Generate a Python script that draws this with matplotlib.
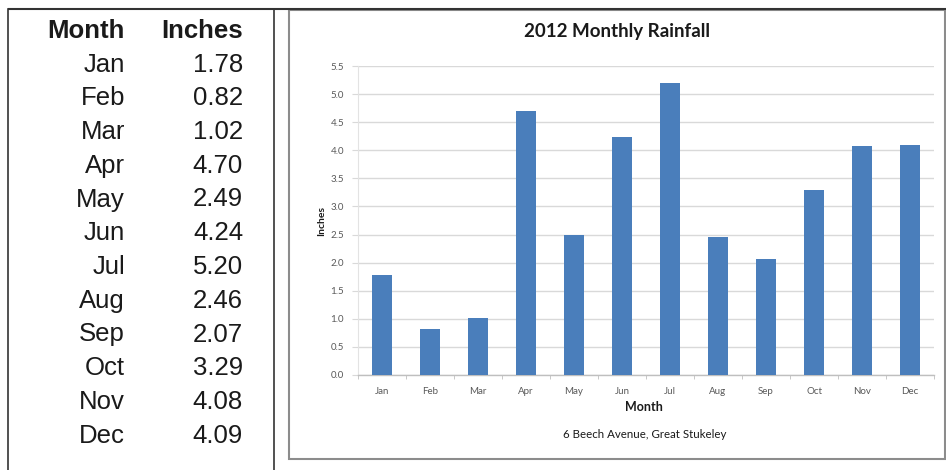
import matplotlib.pyplot as plt
from matplotlib.patches import Rectangle

months = ["Jan", "Feb", "Mar", "Apr", "May", "Jun",
          "Jul", "Aug", "Sep", "Oct", "Nov", "Dec"]
inches = [1.78, 0.82, 1.02, 4.70, 2.49, 4.24,
          5.20, 2.46, 2.07, 3.29, 4.08, 4.09]
yticks = [0.0, 0.5, 1.0, 1.5, 2.0, 2.5, 3.0, 3.5, 4.0, 4.5, 5.0, 5.5]

W, H = 946, 470
fig = plt.figure(figsize=(W / 100, H / 100), dpi=100)

# overlay in pixel units for the table and the frames
bg = fig.add_axes([0, 0, 1, 1])
bg.set_xlim(0, W)
bg.set_ylim(H, 0)
bg.axis("off")

bg.plot([7.5, W], [8.5, 8.5], color="#333333", lw=1.5, solid_capstyle="butt")
bg.plot([7.5, 7.5], [8.5, H], color="#333333", lw=1.2)
bg.plot([274, 274], [8.5, H], color="#333333", lw=1.2)

bg.add_patch(Rectangle((289, 10), 656, 449, facecolor="white",
                       edgecolor="#8c8c8c", lw=1.5))

tfont = "Liberation Sans"
tsize = 18.5
bg.text(125, 37.5, "Month", ha="right", va="baseline", fontsize=tsize,
        fontweight="bold", family=tfont, color="#1a1a1a")
bg.text(243, 37.5, "Inches", ha="right", va="baseline", fontsize=tsize,
        fontweight="bold", family=tfont, color="#1a1a1a")
for i, (m, v) in enumerate(zip(months, inches)):
    y = 71.5 + i * 33.75
    bg.text(125, y, m, ha="right", va="baseline", fontsize=tsize,
            family=tfont, color="#1a1a1a")
    bg.text(243, y, f"{v:.2f}", ha="right", va="baseline", fontsize=tsize,
            family=tfont, color="#1a1a1a")

# chart
cfont = "Lato"
ax = fig.add_axes([358 / W, 1 - 375 / H, 576 / W, 309 / H])
x = list(range(len(months)))
ax.bar(x, inches, width=0.4, color="#4a7ebb", zorder=3)
ax.set_xlim(-0.5, len(months) - 0.5)
ax.set_ylim(0, 5.5)
ax.set_yticks(yticks)
ax.set_yticklabels([f"{t:.1f}" for t in yticks], fontsize=7, family=cfont,
                   color="#595959")
ax.set_xticks(x)
ax.set_xticklabels(months, fontsize=7, family=cfont, color="#595959")
ax.set_xticks([i + 0.5 for i in range(-1, len(months))], minor=True)
ax.tick_params(axis="x", which="major", length=0, pad=9)
ax.tick_params(axis="x", which="minor", length=3, color="#bfbfbf", direction="out")
ax.tick_params(axis="y", length=4, color="#d9d9d9", pad=6)
ax.yaxis.grid(True, color="#d9d9d9", lw=1.0, zorder=0)
for s in ["top", "right"]:
    ax.spines[s].set_visible(False)
ax.spines["left"].set_color("#e3e3e3")
ax.spines["bottom"].set_color("#bfbfbf")
ax.spines["bottom"].set_linewidth(1.0)

bg.text(617, 31, "2012 Monthly Rainfall", ha="center", va="center",
        fontsize=13.5, fontweight="bold", family=cfont, color="#1a1a1a")
bg.text(644, 407, "Month", ha="center", va="center", fontsize=9,
        fontweight="bold", family=cfont, color="#1a1a1a")
bg.text(322, 221, "Inches", ha="center", va="center", fontsize=7.5,
        fontweight="bold", family=cfont, color="#1a1a1a", rotation=90)
bg.text(645, 435, "6 Beech Avenue, Great Stukeley", ha="center", va="center",
        fontsize=8.3, family=cfont, color="#1a1a1a")

fig.savefig("out.png", dpi=100)
